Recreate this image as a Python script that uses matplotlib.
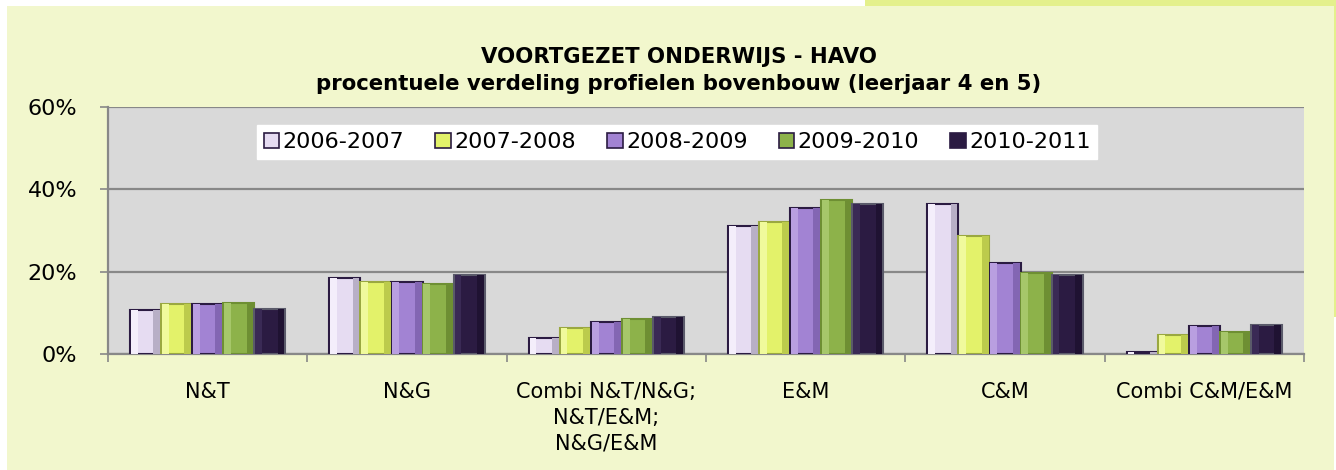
import matplotlib
matplotlib.use("Agg")
import matplotlib.pyplot as plt
import matplotlib.patches as mpatches
import numpy as np

categories = ["N&T", "N&G", "Combi N&T/N&G;\nN&T/E&M;\nN&G/E&M", "E&M", "C&M", "Combi C&M/E&M"]
series_names = ["2006-2007", "2007-2008", "2008-2009", "2009-2010", "2010-2011"]
v2006 = [10.8, 18.4, 4.0, 31.0, 36.5, 0.4]
v2007 = [12.1, 17.4, 6.2, 32.0, 28.7, 4.5]
v2008 = [12.2, 17.5, 7.8, 35.5, 22.0, 6.8]
v2009 = [12.4, 16.9, 8.6, 37.3, 19.7, 5.4]
v2010 = [11.0, 19.3, 9.0, 36.4, 19.2, 7.1]
yticks = [0, 20, 40, 60]
title_lines = ["VOORTGEZET ONDERWIJS - HAVO",
               "procentuele verdeling profielen bovenbouw (leerjaar 4 en 5)"]

series = [v2006, v2007, v2008, v2009, v2010]
colors = ["#e6dcf2", "#e3f26a", "#a283d3", "#8db24a", "#2b1b42"]
light = ["#f4eefb", "#f0fa9c", "#b99fe0", "#a6c76a", "#3a2a55"]
dark = ["#b8afc6", "#bccb4c", "#8366b3", "#6e8f33", "#1f1232"]
edges = ["#2b1b42", "#9aa840", "#2b1b42", "#6e8f33", "#5a5a6a"]

W, H = 1336, 470
fig = plt.figure(figsize=(W / 100, H / 100), dpi=100)
fig.patch.set_facecolor("white")
# background panels
fig.add_artist(mpatches.Rectangle((865 / W, 1 - 6 / H), (W - 865) / W, 6 / H,
                                  transform=fig.transFigure, facecolor="#e4f08c", edgecolor="none", zorder=0))
fig.add_artist(mpatches.Rectangle((1334 / W, 1 - 317 / H), 2 / W, 317 / H,
                                  transform=fig.transFigure, facecolor="#e4f08c", edgecolor="none", zorder=0))
fig.add_artist(mpatches.Rectangle((7 / W, 0), (1334 - 7) / W, 1 - 6 / H,
                                  transform=fig.transFigure, facecolor="#f2f7cd", edgecolor="none", zorder=0))

ax = fig.add_axes([108 / W, 1 - 354 / H, (1304 - 108) / W, (354 - 107) / H])
ax.set_facecolor("#d9d9d9")

n = len(series)
x = np.arange(len(categories))
bw = 0.156
for i, (vals, c) in enumerate(zip(series, colors)):
    pos = x + (i - (n - 1) / 2) * bw
    ax.bar(pos, vals, width=bw, color=c, edgecolor=edges[i], linewidth=1.5, zorder=3,
           label=series_names[i])
    # bevel highlight / shadow strips
    ax.bar(pos - bw * 0.36, vals, width=bw * 0.22, color=light[i], edgecolor="none", zorder=4)
    ax.bar(pos + bw * 0.36, vals, width=bw * 0.22, color=dark[i], edgecolor="none", zorder=4)

ax.set_xlim(-0.5, len(categories) - 0.5)
ax.set_ylim(0, 60)
ax.set_yticks(yticks)
ax.set_yticklabels([f"{t}%" for t in yticks], fontsize=16)
ax.yaxis.grid(True, color="#888888", linewidth=1.6, zorder=1)
ax.set_axisbelow(True)
ax.set_xticks(x)
ax.set_xticklabels(categories, fontsize=15, linespacing=1.38)
ax.tick_params(axis="x", which="major", length=0, pad=20)
ax.set_xticks(np.arange(-0.5, len(categories), 1.0), minor=True)
ax.tick_params(axis="x", which="minor", length=6, color="#888888", width=1.2)
ax.tick_params(axis="y", length=6, color="#888888", width=1.2, pad=16)
for s in ["top", "right"]:
    ax.spines[s].set_visible(False)
for s in ["left", "bottom"]:
    ax.spines[s].set_color("#888888")
    ax.spines[s].set_linewidth(1.6)

handles = [mpatches.Patch(facecolor=c, edgecolor="#2b1b42", linewidth=1.2) for c in colors]
leg = ax.legend(handles, series_names, ncol=5, loc="center", bbox_to_anchor=(0.476, 0.858),
                fontsize=16, frameon=True, fancybox=False, handlelength=0.7, handleheight=0.7,
                handletextpad=0.15, columnspacing=1.4, borderpad=0.3)
leg.get_frame().set_facecolor("white")
leg.get_frame().set_edgecolor("white")
leg.get_frame().set_alpha(1)

fig.text(679 / W, 1 - 57 / H, title_lines[0], ha="center", va="center", fontsize=15.3, fontweight="bold")
fig.text(679 / W, 1 - 84 / H, title_lines[1], ha="center", va="center", fontsize=15.3, fontweight="bold")

fig.savefig("out.png", dpi=100, facecolor=fig.get_facecolor())
